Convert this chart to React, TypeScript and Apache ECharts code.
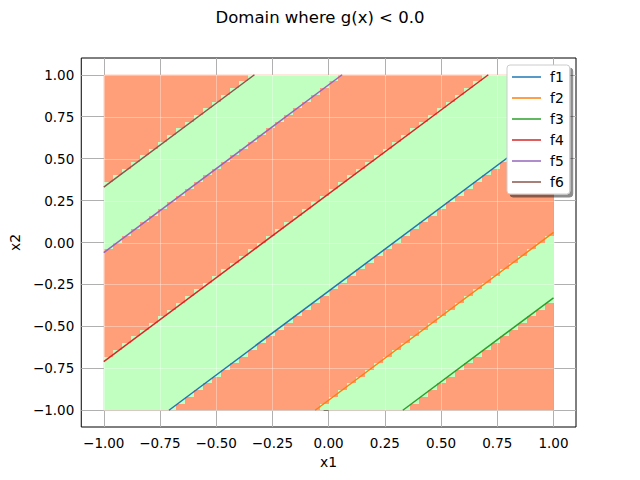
import React, { useEffect, useRef } from 'react';
import * as echarts from 'echarts';

// ---- data ----
const functionNames = ['f1', 'f2', 'f3', 'f4', 'f5', 'f6'];
const lineColors = ['#1f77b4', '#ff7f0e', '#2ca02c', '#d62728', '#9467bd', '#8c564b'];
const lineStartX = [-0.71, -0.06, 0.33, -1, -1, -1];
const lineStartY = [-1, -1, -1, -0.71, -0.06, 0.33];
const lineEndX = [1, 1, 1, 0.71, 0.06, -0.33];
const lineEndY = [0.71, 0.06, -0.33, 1, 1, 1];

const tickValues = [-1, -0.75, -0.5, -0.25, 0, 0.25, 0.5, 0.75, 1];
const axisMin = -1.1;
const axisMax = 1.1;
const domainMin = -1;
const domainMax = 1;
const cellsPerSide = 50;

const insideColor = '#c1ffc1';
const outsideColor = '#ff9f7a';
const FONT = 'DejaVu Sans';

const fmt = (v: number) => v.toFixed(2).replace('-', '\u2212');

// boundaries (offset c in x2 = x1 + c) of each level line
const boundaries = functionNames.map((_, k) => lineStartY[k] - lineStartX[k]);
const isInside = (c: number) => boundaries.filter((b) => b < c).length % 2 === 1;

export default function App() {
  const ref = useRef<HTMLDivElement>(null);
  useEffect(() => {
    if (!ref.current) return;
    const chart = echarts.init(ref.current, undefined, { renderer: 'svg' });

    const renderDomain = (params: any, api: any) => {
      const children: any[] = [];
      const tl = api.coord([domainMin, domainMax]);
      const br = api.coord([domainMax, domainMin]);
      children.push({
        type: 'rect',
        shape: { x: tl[0], y: tl[1], width: br[0] - tl[0], height: br[1] - tl[1] },
        style: { fill: outsideColor },
      });
      const h = (domainMax - domainMin) / cellsPerSide;
      for (let i = 0; i < cellsPerSide; i++) {
        const x0 = domainMin + i * h;
        const xc = x0 + h / 2;
        let runStart = -1;
        for (let j = 0; j <= cellsPerSide; j++) {
          const yc = domainMin + j * h + h / 2;
          const inside = j < cellsPerSide && isInside(yc - xc);
          if (inside && runStart < 0) runStart = j;
          if (!inside && runStart >= 0) {
            const a = api.coord([x0, domainMin + j * h]);
            const b = api.coord([x0 + h, domainMin + runStart * h]);
            const left = Math.round(a[0]);
            const right = Math.round(b[0]);
            const top = Math.round(a[1]);
            const bottom = Math.round(b[1]);
            children.push({
              type: 'rect',
              shape: { x: left, y: top, width: right - left, height: bottom - top },
              style: { fill: insideColor },
            });
            runStart = -1;
          }
        }
      }
      // faint grid showing through the filled cells
      tickValues.forEach((t) => {
        const p = api.coord([t, domainMin]);
        const q = api.coord([t, domainMax]);
        children.push({
          type: 'line',
          shape: { x1: Math.round(p[0]) + 0.5, y1: p[1], x2: Math.round(q[0]) + 0.5, y2: q[1] },
          style: { stroke: 'rgba(255,255,255,0.35)', lineWidth: 1 },
        });
        const r = api.coord([domainMin, t]);
        const s = api.coord([domainMax, t]);
        children.push({
          type: 'line',
          shape: { x1: r[0], y1: Math.round(r[1]) + 0.5, x2: s[0], y2: Math.round(s[1]) + 0.5 },
          style: { stroke: 'rgba(255,255,255,0.35)', lineWidth: 1 },
        });
      });
      return { type: 'group', children };
    };

    const axisCommon = {
      type: 'value',
      min: axisMin,
      max: axisMax,
      nameLocation: 'middle',
      nameTextStyle: { fontFamily: FONT, fontSize: 13.9, color: '#000' },
      axisLine: { show: false },
      axisTick: {
        show: true,
        inside: false,
        length: 5,
        customValues: tickValues,
        lineStyle: { color: '#000', width: 1 },
      },
      axisLabel: {
        customValues: tickValues,
        formatter: (v: number) => fmt(v),
        fontFamily: FONT,
        fontSize: 13.5,
        color: '#000',
      },
      splitLine: { show: true, lineStyle: { color: '#b0b0b0', width: 1 } },
    };

    chart.setOption({
      animation: false,
      title: {
        text: 'Domain where g(x) < 0.0',
        left: 'center',
        top: 9,
        padding: 0,
        textStyle: { fontFamily: FONT, fontSize: 16.5, fontWeight: 'normal', color: '#000' },
      },
      grid: {
        left: 80,
        top: 58,
        width: 496,
        height: 369,
        show: true,
        borderColor: '#000',
        borderWidth: 1,
        backgroundColor: 'transparent',
      },
      xAxis: {
        ...axisCommon,
        name: 'x1',
        nameGap: 28,
        axisLabel: { ...axisCommon.axisLabel, margin: 9 },
      },
      yAxis: {
        ...axisCommon,
        name: 'x2',
        nameGap: 58,
        nameRotate: 90,
        axisLabel: { ...axisCommon.axisLabel, margin: 7 },
      },
      legend: {
        data: functionNames.map((name) => ({ name, icon: 'path://M0 0H29V1.5H0Z' })),
        orient: 'vertical',
        left: 507,
        top: 65,
        padding: [5, 6, 5, 5],
        itemWidth: 29,
        itemHeight: 14,
        itemGap: 7,
        backgroundColor: '#fff',
        borderColor: '#cccccc',
        borderWidth: 1,
        borderRadius: 3,
        shadowColor: 'rgba(0,0,0,0.45)',
        shadowBlur: 0,
        shadowOffsetX: 3,
        shadowOffsetY: 3,
        textStyle: { fontFamily: FONT, fontSize: 13.9, color: '#000', padding: [0, 0, 0, 4] },
      },
      series: [
        {
          type: 'custom',
          name: 'domain',
          silent: true,
          clip: false,
          z: 1,
          data: [[domainMin, domainMin, domainMax, domainMax]],
          encode: { x: [0, 2], y: [1, 3] },
          renderItem: renderDomain,
        },
        ...functionNames.map((name, k) => ({
          type: 'line',
          name,
          z: 3,
          symbol: 'none',
          color: lineColors[k],
          lineStyle: { color: lineColors[k], width: 1.5 },
          data: [
            [lineStartX[k], lineStartY[k]],
            [lineEndX[k], lineEndY[k]],
          ],
        })),
      ],
    });
    return () => chart.dispose();
  }, []);
  return <div ref={ref} style={{ width: 640, height: 480, margin: -8 }} />;
}
